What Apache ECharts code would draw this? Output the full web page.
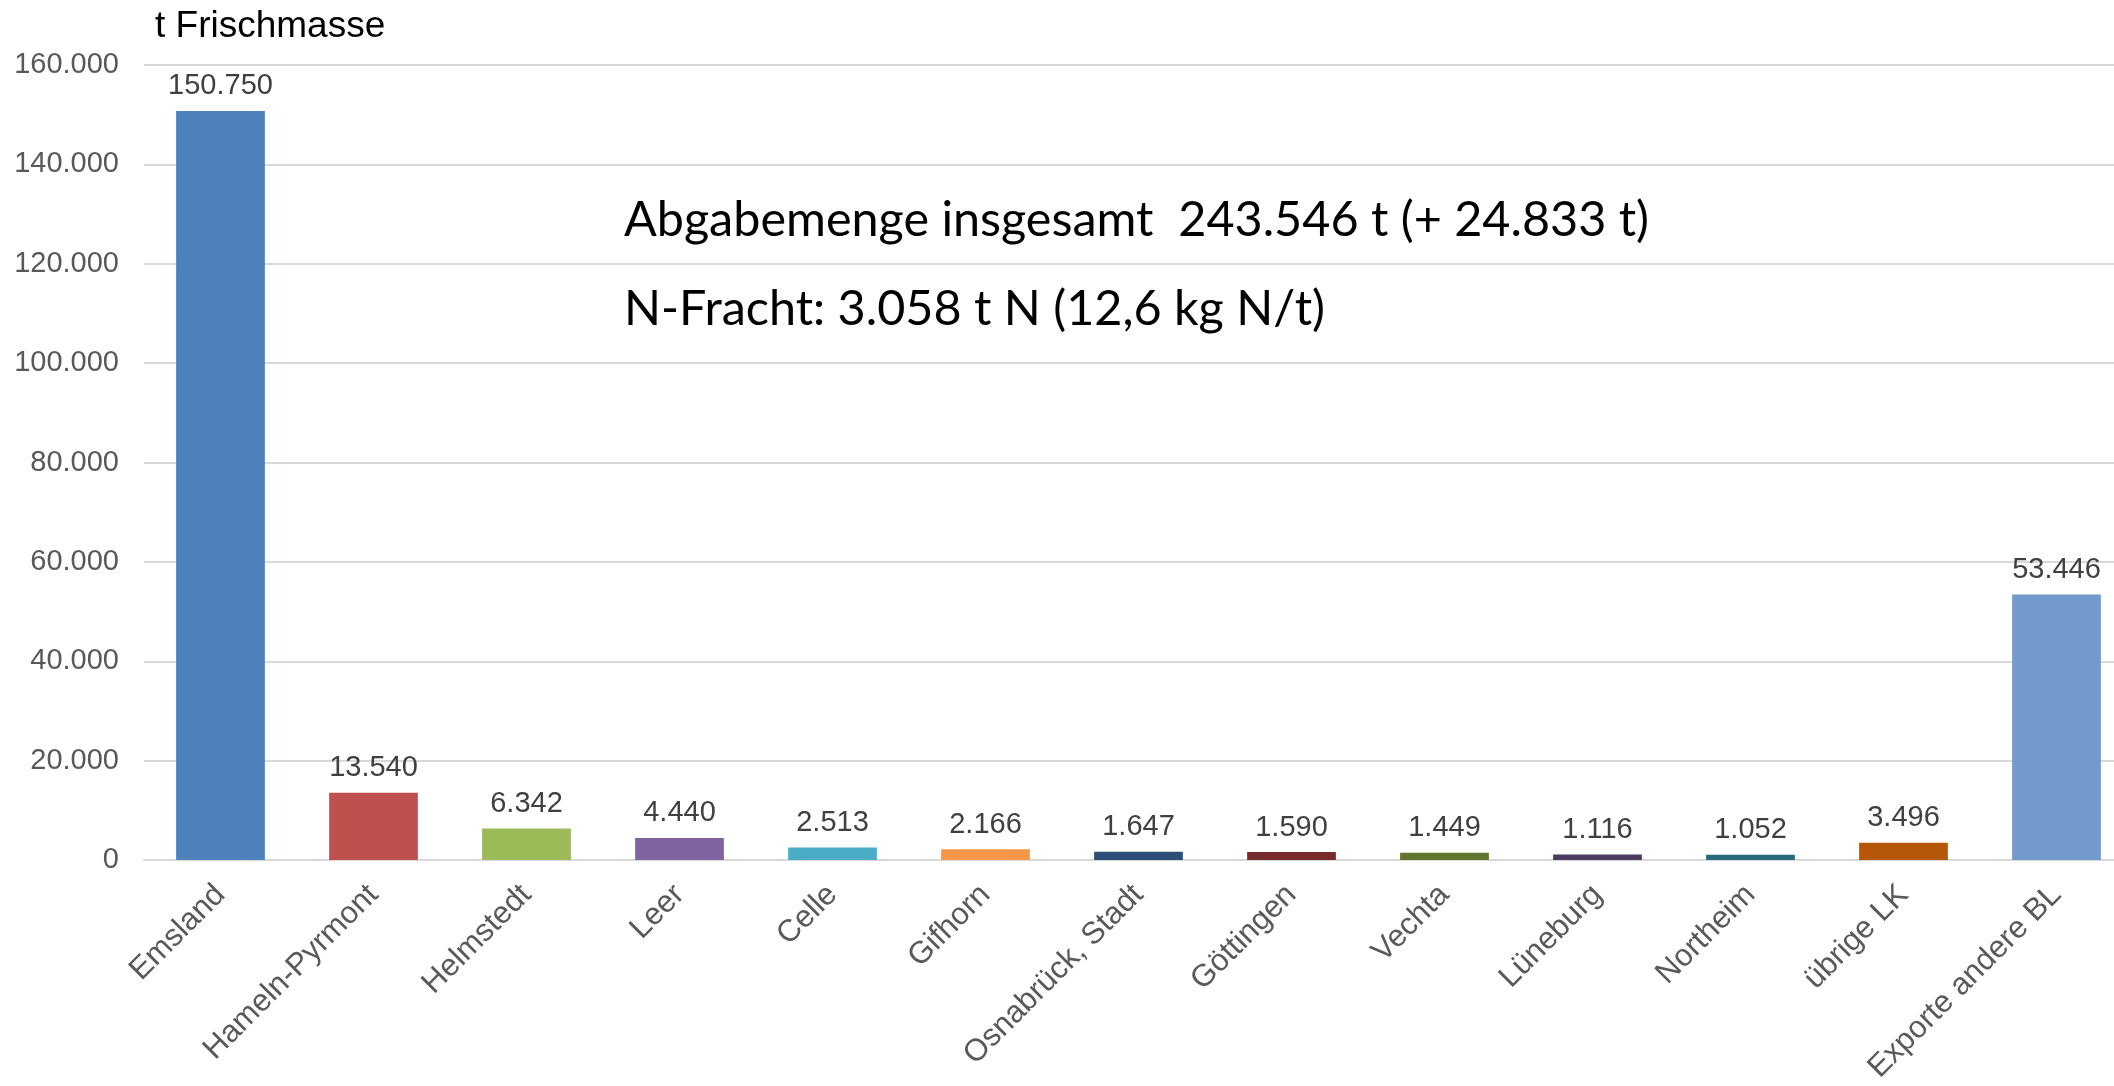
<!DOCTYPE html>
<html>
<head>
<meta charset="utf-8">
<script src="https://cdn.jsdelivr.net/npm/echarts@6/dist/echarts.min.js"></script>
<style>
  html, body { margin: 0; padding: 0; background: #fff; }
  #chart { width: 2114px; height: 1086px; }
</style>
</head>
<body>
<div id="chart"></div>
<script>
    // Kategorien (Landkreise) und Abgabemengen in t Frischmasse
    var categories = ['Emsland', 'Hameln-Pyrmont', 'Helmstedt', 'Leer', 'Celle', 'Gifhorn',
        'Osnabrück, Stadt', 'Göttingen', 'Vechta', 'Lüneburg', 'Northeim', 'übrige LK', 'Exporte andere BL'];
    var values = [150750, 13540, 6342, 4440, 2513, 2166, 1647, 1590, 1449, 1116, 1052, 3496, 53446];
    var barColors = ['#4F81BD', '#C0504D', '#9BBB59', '#8064A2', '#4BACC6', '#F79646',
        '#2C4D75', '#772C2A', '#5F7530', '#4D3B62', '#276A7C', '#B65708', '#729ACA'];
    var yTicks = [0, 20000, 40000, 60000, 80000, 100000, 120000, 140000, 160000];

    var axisTitle = 't Frischmasse';
    var noteLines = ['Abgabemenge insgesamt  243.546 t (+ 24.833 t)', 'N-Fracht: 3.058 t N (12,6 kg N/t)'];

    // Tausenderpunkt wie im Original
    function fmt(v) {
        return String(v).replace(/\B(?=(\d{3})+(?!\d))/g, '.');
    }

    var myChart = echarts.init(document.getElementById('chart'));
    var option = {
        animation: false,
        backgroundColor: '#ffffff',
        grid: {
            left: 144,
            width: 1989,
            top: 65,
            bottom: 226,
            containLabel: false,
            outerBoundsMode: 'none'
        },
        xAxis: {
            type: 'category',
            data: categories,
            axisLine: { show: true, lineStyle: { color: '#D9D9D9', width: 2 } },
            axisTick: { show: false },
            axisLabel: {
                rotate: 45,
                interval: 0,
                margin: 30,
                color: '#595959',
                fontFamily: 'Liberation Sans',
                fontSize: 31
            }
        },
        yAxis: {
            type: 'value',
            min: yTicks[0],
            max: yTicks[yTicks.length - 1],
            interval: yTicks[1] - yTicks[0],
            axisLine: { show: false },
            axisTick: { show: false },
            splitLine: { lineStyle: { color: '#D9D9D9', width: 2 } },
            axisLabel: {
                margin: 25,
                color: '#595959',
                fontFamily: 'Liberation Sans',
                fontSize: 29,
                formatter: fmt
            }
        },
        series: [{
            type: 'bar',
            barWidth: '58%',
            data: values.map(function(v, i) {
                return { value: v, itemStyle: { color: barColors[i] } };
            }),
            label: {
                show: true,
                position: 'top',
                distance: 10,
                color: '#404040',
                fontFamily: 'Liberation Sans',
                fontSize: 29,
                formatter: function(p) { return fmt(p.value); }
            }
        }],
        graphic: [
            {
                type: 'text',
                left: 155,
                top: 8,
                style: { text: axisTitle, fill: '#000', font: '37px "Liberation Sans"' }
            },
            {
                type: 'text',
                left: 624,
                top: 196,
                style: { text: noteLines[0], fill: '#000', font: '48.5px Lato' }
            },
            {
                type: 'text',
                left: 624,
                top: 285,
                style: { text: noteLines[1], fill: '#000', font: '48.5px Lato' }
            }
        ]
    };
    myChart.setOption(option);
</script>
</body>
</html>
